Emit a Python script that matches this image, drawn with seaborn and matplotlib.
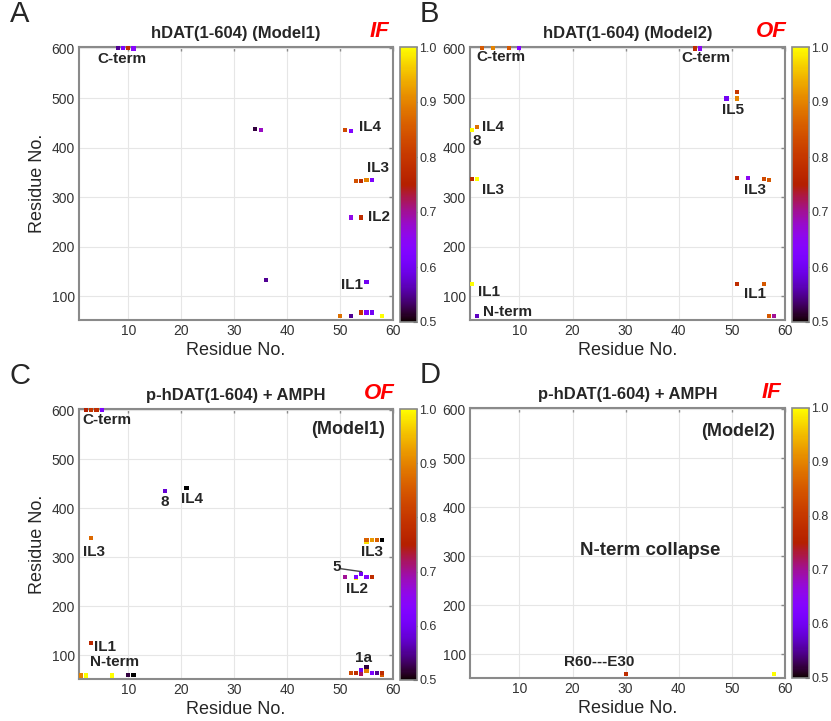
import numpy as np
import pandas as pd
import matplotlib
matplotlib.use("Agg")
import matplotlib.pyplot as plt
import seaborn as sns
from matplotlib.cm import ScalarMappable
from matplotlib.colors import Normalize

# ---- data (residue i, residue j, contact fraction) ----
a_x = [8, 9, 10, 11, 34, 35, 51, 52, 53, 54, 55, 56, 52, 54, 36, 55, 50, 52, 54, 55, 56, 58]
a_y = [601, 601, 601, 600, 437, 435, 435, 434, 333, 332, 334, 335, 259, 259, 133, 128, 60, 60, 67, 67, 67, 60]
a_v = [0.55, 0.62, 0.78, 0.64, 0.52, 0.68, 0.83, 0.63, 0.84, 0.78, 0.90, 0.62, 0.66, 0.78, 0.55, 0.60,
       0.88, 0.55, 0.80, 0.62, 0.60, 1.00]

b_x = [3, 5, 8, 10, 43, 44, 49, 51, 51, 1, 2, 1, 2, 51, 53, 56, 57, 1, 51, 56, 2, 57, 58]
b_y = [601, 601, 601, 601, 600, 600, 499, 512, 499, 436, 441, 336, 336, 338, 338, 336, 335,
       125, 124, 125, 60, 60, 60]
b_v = [0.85, 0.90, 0.85, 0.63, 0.78, 0.65, 0.60, 0.80, 0.90, 1.00, 0.88, 0.78, 1.00, 0.78, 0.65,
       0.83, 0.85, 1.00, 0.78, 0.85, 0.57, 0.85, 0.70]

c_x = [2, 3, 4, 5, 17, 21, 3, 55, 55, 56, 57, 58, 51, 53, 53, 54, 55, 56, 3, 1, 2, 7, 10, 11,
       52, 53, 54, 54, 55, 55, 56, 57, 58, 58]
c_y = [601, 601, 601, 601, 435, 442, 339, 331, 335, 335, 335, 335, 261, 259, 261, 267, 260, 260,
       125, 59, 59, 59, 60, 60, 64, 64, 63, 71, 68, 76, 64, 64, 60, 64]
c_v = [0.75, 0.80, 0.78, 0.62, 0.58, 0.50, 0.87, 0.98, 0.86, 0.92, 0.86, 0.50, 0.70, 1.00, 0.63,
       0.60, 0.63, 0.78, 0.77, 0.90, 1.00, 1.00, 0.52, 0.50, 0.83, 0.78, 0.72, 0.60, 0.90, 0.52,
       0.62, 0.55, 0.85, 0.78]

d_x = [30, 58]
d_y = [60, 60]
d_v = [0.78, 1.00]

titles = ["hDAT(1-604) (Model1)", "hDAT(1-604) (Model2)",
          "p-hDAT(1-604) + AMPH", "p-hDAT(1-604) + AMPH"]
states = ["IF", "OF", "OF", "IF"]
letters = ["A", "B", "C", "D"]

# region labels: (text, x, y, ha)
a_labels = [("C-term", 8.8, 578, "center"), ("IL4", 53.5, 441, "left"), ("IL3", 55.1, 359, "left"),
            ("IL2", 55.2, 259, "left"), ("IL1", 54.3, 122, "right")]
b_labels = [("C-term", 6.5, 582, "center"), ("C-term", 45.2, 581, "center"), ("IL5", 50.2, 476, "center"),
            ("IL4", 3.0, 441, "left"), ("8", 1.9, 414, "center"), ("IL3", 2.9, 314, "left"),
            ("IL3", 54.3, 314, "center"), ("IL1", 2.3, 108, "left"), ("IL1", 54.3, 105, "center"),
            ("N-term", 3.1, 69, "left")]
c_labels = [("C-term", 5.9, 581, "center"), ("8", 16.8, 413, "center"), ("IL4", 22.1, 420, "center"),
            ("IL3", 3.6, 311, "center"), ("IL3", 56.1, 311, "center"), ("5", 49.4, 281, "center"),
            ("IL2", 53.2, 235, "center"), ("IL1", 3.6, 117, "left"), ("N-term", 7.5, 87, "center"),
            ("1a", 54.4, 95, "center")]
d_labels = []

panels = [(a_x, a_y, a_v, a_labels), (b_x, b_y, b_v, b_labels),
          (c_x, c_y, c_v, c_labels), (d_x, d_y, d_v, d_labels)]

sns.set_style("white")
plt.rcParams["font.family"] = ["Liberation Sans", "DejaVu Sans"]

W, H = 831, 721
fig = plt.figure(figsize=(W / 100, H / 100), dpi=100)

def box(l, r, t, b):
    return [l / W, 1 - b / H, (r - l) / W, (b - t) / H]

ax_boxes = [box(79, 393, 47, 320), box(470, 785, 47, 320),
            box(79, 393, 409, 679), box(470, 785, 408, 678)]
cb_boxes = [box(400, 417, 47, 322), box(792, 809, 47, 322),
            box(400, 417, 409, 680), box(792, 809, 408, 678)]
letter_off = [69, 50, 69, 50]

cmap = plt.get_cmap("gnuplot")
norm = Normalize(0.5, 1.0)
grey = "#8a8a8a"

for i, (xs, ys, vs, labels) in enumerate(panels):
    ax = fig.add_axes(ax_boxes[i])
    df = pd.DataFrame({"Residue i": xs, "Residue j": ys, "frac": vs})
    sns.scatterplot(data=df, x="Residue i", y="Residue j", hue="frac", palette="gnuplot",
                    hue_norm=(0.5, 1.0), marker="s", s=9, linewidth=0, legend=False,
                    ax=ax, zorder=3, clip_on=False)
    ax.set_xlim(0.7, 60)
    ax.set_ylim(52, 603)
    ax.set_xticks([10, 20, 30, 40, 50, 60])
    ax.set_yticks([100, 200, 300, 400, 500, 600])
    ax.grid(True, color="#e6e6e6", linewidth=0.8)
    ax.tick_params(direction="in", length=3, width=1, color=grey, labelcolor="#333333",
                   labelsize=10, top=True, right=True, pad=3)
    for sp in ax.spines.values():
        sp.set_color(grey)
        sp.set_linewidth(1.5)
    ax.set_xlabel("Residue No.", fontsize=13, labelpad=3)
    if i in (0, 2):
        ax.set_ylabel("Residue No.", fontsize=13, labelpad=4)
    else:
        ax.set_ylabel("")

    for txt, lx, ly, ha in labels:
        ax.text(lx, ly, txt, ha=ha, va="center", fontsize=11, fontweight="bold", zorder=4)

    pos = ax_boxes[i]
    cx = pos[0] + pos[2] / 2
    ytop = pos[1] + pos[3]
    fig.text(cx, ytop + 0.009, titles[i], ha="center", va="bottom", fontsize=12, fontweight="bold")
    fig.text(pos[0] + pos[2] - 14 / W, ytop + 0.007, states[i], ha="center", va="bottom",
             fontsize=16, fontweight="bold", style="italic", color="#ff0000")
    fig.text(pos[0] - letter_off[i] / W, ytop + 0.026, letters[i], ha="left", va="bottom", fontsize=21)

    cax = fig.add_axes(cb_boxes[i])
    cb = fig.colorbar(ScalarMappable(norm=norm, cmap=cmap), cax=cax)
    cb.set_ticks([0.5, 0.6, 0.7, 0.8, 0.9, 1.0])
    cb.ax.tick_params(direction="in", length=3, labelsize=9, labelcolor="#333333",
                      color="#333333", pad=1.5)
    cb.outline.set_edgecolor(grey)
    cb.outline.set_linewidth(1.2)

    if i == 2:
        ax.plot([50.2, 54.1], [277, 271], color="#444444", linewidth=1, zorder=2)
        ax.text(58.5, 562, "(Model1)", ha="right", va="center", fontsize=13, fontweight="bold")
    if i == 3:
        ax.text(58.2, 555, "(Model2)", ha="right", va="center", fontsize=13, fontweight="bold")
        ax.text(34.7, 312, "N-term collapse", ha="center", va="center", fontsize=13.5, fontweight="bold")
        ax.text(25, 85, "R60---E30", ha="center", va="center", fontsize=11, fontweight="bold")

fig.savefig("out.png", dpi=100)
